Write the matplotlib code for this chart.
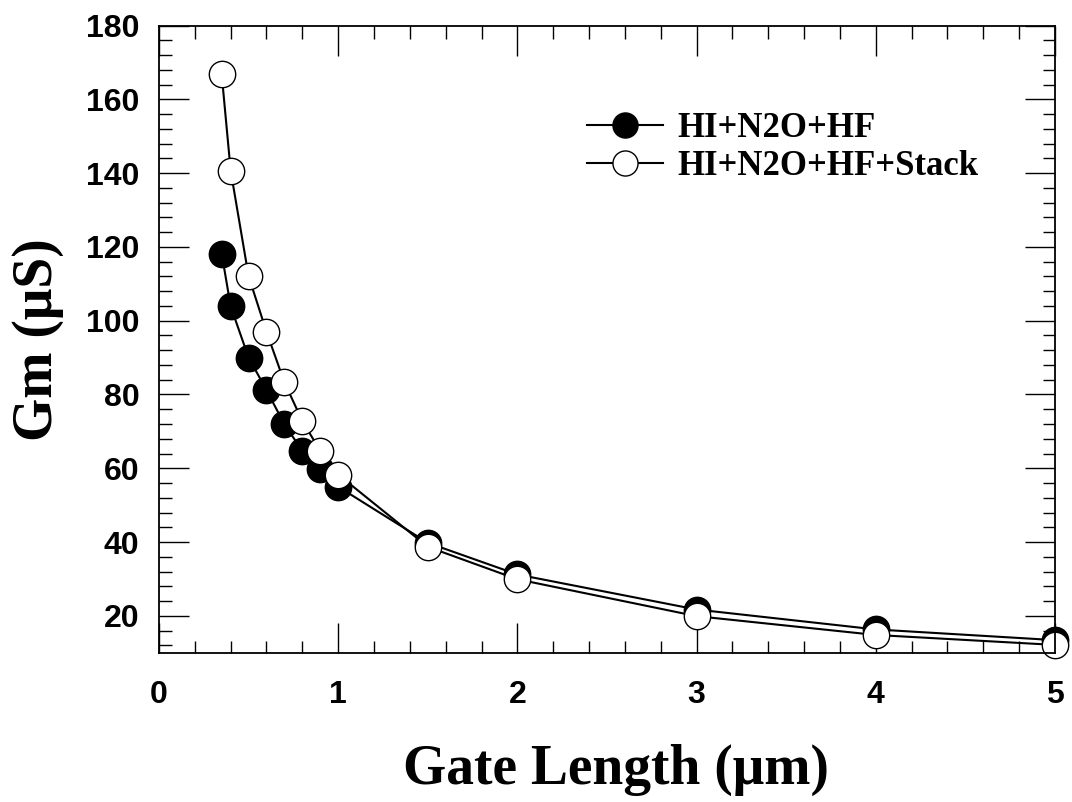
import matplotlib
matplotlib.use("Agg")
import matplotlib.pyplot as plt
from matplotlib.ticker import MultipleLocator

# Gate length (um) and transconductance Gm (uS)
gate_length = [0.35, 0.4, 0.5, 0.6, 0.7, 0.8, 0.9, 1.0, 1.5, 2.0, 3.0, 4.0, 5.0]
gm_hf = [118.2, 103.9, 90.0, 81.2, 71.9, 64.7, 59.7, 55.0, 39.8, 31.2, 21.7, 16.3, 13.4]
gm_stack = [166.8, 140.7, 112.1, 97.0, 83.3, 72.8, 64.7, 58.3, 38.7, 29.9, 19.9, 14.8, 12.1]

series_labels = ["HI+N2O+HF", "HI+N2O+HF+Stack"]
x_label = "Gate Length (\u03bcm)"
y_label = "Gm (\u03bcS)"

fig = plt.figure(figsize=(10.72, 8.02), dpi=100)
ax = fig.add_axes([0.1483, 0.1862, 0.8358, 0.7818])

ax.plot(gate_length, gm_hf, color="black", lw=1.5, marker="o", ms=19,
        mfc="black", mec="black", mew=1.0, label=series_labels[0], clip_on=False)
ax.plot(gate_length, gm_stack, color="black", lw=1.5, marker="o", ms=19,
        mfc="white", mec="black", mew=1.0, label=series_labels[1], clip_on=False)

ax.set_xlim(0, 5)
ax.set_ylim(10, 180)
ax.xaxis.set_major_locator(MultipleLocator(1))
ax.xaxis.set_minor_locator(MultipleLocator(0.2))
ax.yaxis.set_major_locator(MultipleLocator(20))
ax.yaxis.set_minor_locator(MultipleLocator(4))
ax.set_yticks([20, 40, 60, 80, 100, 120, 140, 160, 180])

ax.tick_params(which="both", direction="in", top=True, right=True, width=1.0)
ax.tick_params(which="major", length=21.5)
ax.tick_params(which="minor", length=9)
ax.tick_params(axis="x", which="major", pad=20)
ax.tick_params(axis="y", which="major", pad=14)
for lbl in ax.get_xticklabels() + ax.get_yticklabels():
    lbl.set_fontfamily("Liberation Sans")
    lbl.set_fontweight("bold")
    lbl.set_fontsize(23)

for sp in ax.spines.values():
    sp.set_linewidth(1.3)

ax.set_xlabel(x_label, family="Liberation Serif", fontweight="bold",
              fontsize=40, labelpad=24, x=0.51)
ax.set_ylabel(y_label, family="Liberation Serif", fontweight="bold",
              fontsize=40, labelpad=16)

leg = ax.legend(loc="upper left", bbox_to_anchor=(0.462, 0.885), frameon=False,
                prop={"family": "Liberation Serif", "weight": "bold", "size": 25},
                handlelength=2.2, handletextpad=0.42, labelspacing=0.15,
                borderaxespad=0, markerscale=0.95)

fig.savefig("out.png", dpi=100)
